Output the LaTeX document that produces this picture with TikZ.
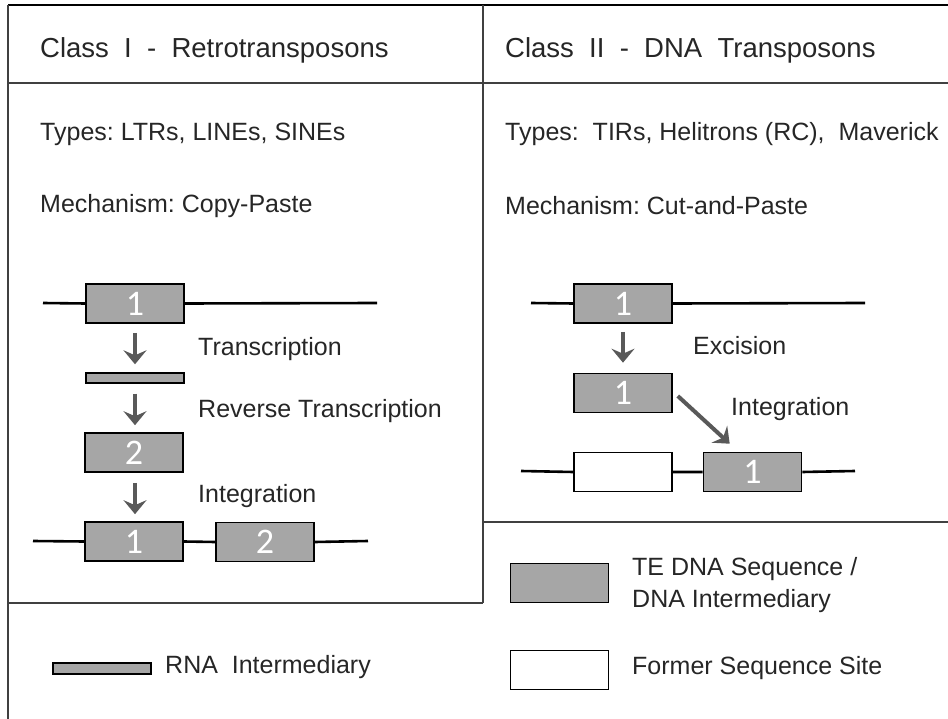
\documentclass[tikz,border=0pt]{standalone}
\usepackage{fontspec}
\setmainfont{Liberation Sans}
\newfontfamily\numfont{Carlito}
\usetikzlibrary{arrows.meta,calc}
\definecolor{boxgray}{HTML}{A6A6A6}
\definecolor{arrowgray}{HTML}{595959}
\definecolor{framegray}{HTML}{404040}
\definecolor{txt}{HTML}{262626}
\begin{document}
\begin{tikzpicture}[x=1pt,y=-1pt,
  frame/.style={draw=framegray,line width=1.6pt},
  lbl/.style={anchor=west,inner sep=0pt,text=txt,font=\fontsize{25}{30}\selectfont},
  title/.style={lbl,font=\fontsize{27.5}{30}\selectfont},
  tebox/.style={draw=black,line width=1.6pt,fill=boxgray,minimum width=98pt,minimum height=39pt,inner sep=0pt,text=white,font=\numfont\fontsize{36}{36}\selectfont},
  sitebox/.style={draw=black,line width=1.6pt,fill=white,minimum width=98pt,minimum height=39pt,inner sep=0pt},
  rnabar/.style={draw=black,line width=1.4pt,fill=boxgray,minimum width=98pt,minimum height=10pt,inner sep=0pt},
  strand/.style={draw=black,line width=2.6pt},
  steparrow/.style={draw=arrowgray,line width=4pt,-{Stealth[length=14pt,width=23pt,inset=5pt]}}
]
\useasboundingbox (0,0) rectangle (948,719);
% frame
\draw[draw=black,line width=2pt] (8,5) -- (948,5);
\draw[frame] (8,5) -- (8,719);
\draw[frame] (8,83) -- (948,83);
\draw[frame] (483,5) -- (483,603);
\draw[frame] (8,603) -- (483,603);
\draw[frame] (483,522) -- (948,522);
% headings
\node[title] (t1) at (40,50) {Class\ \ I\ \ -\ \ Retrotransposons};
\node[title] (t2) at (505,50) {Class\ \ II\ \ -\ \ DNA\ \ Transposons};
\node[lbl] (ty1) at (40,134) {Types:\ LTRs,\ LINEs,\ SINEs};
\node[lbl] (me1) at (40,206) {Mechanism:\ Copy-Paste};
\node[lbl] (ty2) at (505,134) {Types:\ \ TIRs,\ Helitrons (RC),\ \ Maverick};
\node[lbl] (me2) at (505,206) {Mechanism:\ Cut-and-Paste};
% left diagram
\coordinate (la) at (43,303);
\coordinate (lb) at (377,303);
\node[tebox] (a1) at (135,303.5) {1};
\draw[strand] (la) -- (a1.west) (a1.east) -- (lb);
\node[rnabar] (rna) at (135,378) {};
\node[tebox] (a2) at (134,452.5) {2};
\coordinate (lc) at (33,541);
\coordinate (ld) at (368,541);
\node[tebox] (b1) at (134,541.5) {1};
\node[tebox] (b2) at (265,542) {2};
\draw[strand] (lc) -- (b1.west) (b1.east) -- (b2.west) (b2.east) -- (ld);
\draw[steparrow,shorten <=9pt,shorten >=8pt] (a1.south -| 135,0) -- (rna.north -| 135,0);
\draw[steparrow,shorten <=10pt,shorten >=7pt] (rna.south -| 135,0) -- (a2.north -| 135,0);
\draw[steparrow,shorten <=10pt,shorten >=7pt] (a2.south -| 135,0) -- (b1.north -| 135,0);
\node[lbl] (l1) at (198,349) {Transcription};
\node[lbl] (l2) at (198,411) {Reverse\ Transcription};
\node[lbl] (l3) at (198,496) {Integration};
% right diagram
\coordinate (ra) at (531,303);
\coordinate (rb) at (865,303);
\node[tebox] (c1) at (623,303.5) {1};
\draw[strand] (ra) -- (c1.west) (c1.east) -- (rb);
\node[tebox] (c2) at (623,393) {1};
\coordinate (rc) at (521,471);
\coordinate (rd) at (855,471);
\node[sitebox] (d1) at (623,472) {};
\node[tebox] (d2) at (752.5,472) {1};
\draw[strand] (rc) -- (d1.west) (d1.east) -- (d2.west) (d2.east) -- (rd);
\draw[steparrow,shorten <=8pt,shorten >=10pt] (c1.south) -- (c2.north);
\draw[steparrow] ($(c2.east)+(5,3)$) -- ($(d2.north west)+(27,-8)$);
\node[lbl] (l4) at (693,346) {Excision};
\node[lbl] (l5) at (731,409) {Integration};
% legend
\node[tebox] (k1) at (559.5,583) {};
\node[lbl,align=left] (k1t) at (632,585) {TE\ DNA\ Sequence /\\[2pt]DNA\ Intermediary};
\node[sitebox] (k2) at (559.5,670) {};
\node[lbl] (k2t) at (632,668) {Former\ Sequence\ Site};
\node[rnabar,minimum height=11pt] (k3) at (102,668.5) {};
\node[lbl] (k3t) at (165,667) {RNA\ \ Intermediary};
\end{tikzpicture}
\end{document}
